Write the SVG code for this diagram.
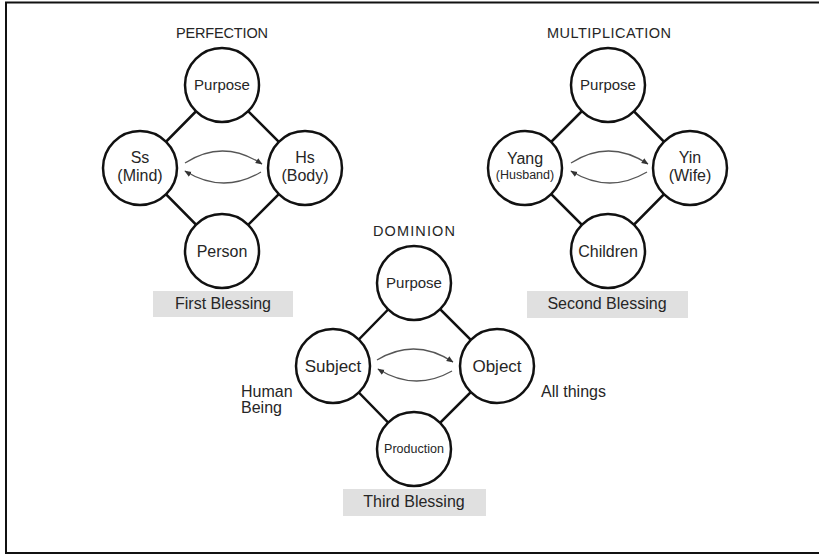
<svg xmlns="http://www.w3.org/2000/svg" width="819" height="555" viewBox="0 0 819 555">
<defs>
<marker id="ah" viewBox="0 0 10 10" refX="9" refY="5" markerWidth="7" markerHeight="7" markerUnits="userSpaceOnUse" orient="auto">
<path d="M0,1 L10,5 L0,9 z" fill="#333"/>
</marker>
<style>
text{font-family:"Liberation Sans",Arial,sans-serif;fill:#262626;text-anchor:middle}
.n circle{fill:#fff;stroke:#111;stroke-width:2.5}
.edge{stroke:#111;stroke-width:2.5;fill:none}
.arc{stroke:#555;stroke-width:1.3;fill:none;marker-end:url(#ah)}
.box{fill:#e0e0e0}
.t{font-size:14.5px}
.l{font-size:15px}
.m{font-size:16px}
.m2{font-size:16px}
.k{font-size:17px}
.b{font-size:16px}
.s{font-size:12.5px}
.side{font-size:16px;text-anchor:start}
</style>
</defs>
<rect x="6" y="2.5" width="830" height="550.5" fill="#fff" stroke="#111" stroke-width="2"/>

<g id="connectors">
<path class="edge" d="M222,85 L140,168 L222,251 L305,168 Z"/>
<path class="edge" d="M608,85 L525,168 L608,251 L690,168 Z"/>
<path class="edge" d="M414,283 L333,366 L414,449 L497,366 Z"/>
<path class="arc" d="M185,163 Q223,138.5 262,164"/>
<path class="arc" d="M261,172 Q223,194.5 185,171"/>
<path class="arc" d="M571,163 Q609,138.5 648,164"/>
<path class="arc" d="M647,172 Q609,194.5 571,171"/>
<path class="arc" d="M377,360 Q415,337 453,362"/>
<path class="arc" d="M452,371 Q415,392 378,369"/>
</g>

<g id="perfection">
<text class="t" x="222" y="38" textLength="92">PERFECTION</text>
<g id="p-purpose" class="n"><circle cx="222" cy="85" r="37"/><text class="l" x="222" y="90">Purpose</text></g>
<g id="p-ss" class="n"><circle cx="140" cy="168" r="37"/><text class="m2" x="140" y="163">Ss</text><text class="m2" x="140" y="181">(Mind)</text></g>
<g id="p-hs" class="n"><circle cx="305" cy="168" r="37"/><text class="m2" x="305" y="163">Hs</text><text class="m2" x="305" y="181">(Body)</text></g>
<g id="p-person" class="n"><circle cx="222" cy="251" r="37"/><text class="m" x="222" y="257">Person</text></g>
<g id="first-blessing"><rect class="box" x="153" y="291" width="140" height="26"/><text class="b" x="223" y="309">First Blessing</text></g>
</g>

<g id="multiplication">
<text class="t" x="609" y="38" textLength="124">MULTIPLICATION</text>
<g id="m-purpose" class="n"><circle cx="608" cy="85" r="37"/><text class="l" x="608" y="90">Purpose</text></g>
<g id="m-yang" class="n"><circle cx="525" cy="168" r="37"/><text class="m2" x="525" y="164">Yang</text><text class="s" x="525" y="179">(Husband)</text></g>
<g id="m-yin" class="n"><circle cx="690" cy="168" r="37"/><text class="m2" x="690" y="163">Yin</text><text class="m2" x="690" y="181">(Wife)</text></g>
<g id="m-children" class="n"><circle cx="608" cy="251" r="37"/><text class="m" x="608" y="257">Children</text></g>
<g id="second-blessing"><rect class="box" x="527" y="291" width="161" height="27"/><text class="b" x="607" y="309">Second Blessing</text></g>
</g>

<g id="dominion">
<text class="t" x="414" y="236" textLength="82">DOMINION</text>
<g id="d-purpose" class="n"><circle cx="414" cy="283" r="37"/><text class="l" x="414" y="288">Purpose</text></g>
<g id="d-subject" class="n"><circle cx="333" cy="366" r="37"/><text class="k" x="333" y="372">Subject</text></g>
<g id="d-object" class="n"><circle cx="497" cy="366" r="37"/><text class="k" x="497" y="372">Object</text></g>
<g id="d-production" class="n"><circle cx="414" cy="449" r="37"/><text class="s" x="414" y="453">Production</text></g>
<g id="third-blessing"><rect class="box" x="343" y="489" width="143" height="27"/><text class="b" x="414" y="507">Third Blessing</text></g>
<text class="side" x="241" y="397">Human</text>
<text class="side" x="241" y="413">Being</text>
<text class="side" x="541" y="397">All things</text>
</g>
</svg>
